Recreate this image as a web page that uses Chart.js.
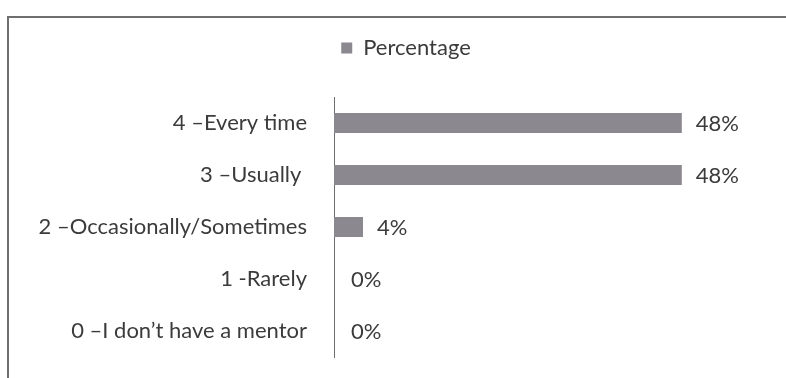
<!DOCTYPE html>
<html>
<head>
<meta charset="utf-8">
<script src="https://cdn.jsdelivr.net/npm/chart.js@4.4.0/dist/chart.umd.min.js"></script>
<style>
  html, body { margin: 0; padding: 0; background: #fff; overflow: hidden; }
  #frame {
    position: absolute; left: 7px; top: 16px; width: 779px; height: 362px;
    box-sizing: border-box; border-left: 2px solid #6f6f6f; border-top: 2px solid #6f6f6f;
  }
  #chart { position: absolute; left: 0; top: 0; }
</style>
</head>
<body>
<div id="frame"></div>
<canvas id="chart" width="786" height="378"></canvas>
<script>
'use strict';

const categories = [
  '4 \u2013Every time',
  '3 \u2013Usually ',
  '2 \u2013Occasionally/Sometimes',
  '1 -Rarely',
  '0 \u2013I don\u2019t have a mentor'
];
const percentages = [48, 48, 4, 0, 0];
const seriesName = 'Percentage';

const textColor = '#3b3b3b';
const barColor = '#8c888f';
const fontFamily = 'Lato, "Open Sans", sans-serif';

// push the plot down below the legend
const legendGap = {
  id: 'legendGap',
  beforeInit(chart) {
    const fit = chart.legend.fit;
    chart.legend.fit = function () {
      fit.bind(chart.legend)();
      this.height += 28;
    };
  }
};

// "48%" style labels at the end of each bar
const valueLabels = {
  id: 'valueLabels',
  afterDatasetsDraw(chart) {
    const { ctx } = chart;
    const meta = chart.getDatasetMeta(0);
    ctx.save();
    ctx.font = `22px ${fontFamily}`;
    ctx.fillStyle = textColor;
    ctx.textAlign = 'left';
    ctx.textBaseline = 'middle';
    meta.data.forEach((bar, i) => {
      const pad = percentages[i] === 0 ? 17 : 14;
      ctx.fillText(percentages[i] + '%', bar.x + pad, bar.y + 1);
    });
    ctx.restore();
  }
};

new Chart(document.getElementById('chart'), {
  type: 'bar',
  data: {
    labels: categories,
    datasets: [{
      label: seriesName,
      data: percentages,
      backgroundColor: barColor,
      borderWidth: 0,
      categoryPercentage: 1,
      barPercentage: 0.385
    }]
  },
  options: {
    indexAxis: 'y',
    responsive: false,
    animation: false,
    devicePixelRatio: 1,
    layout: { padding: { left: 36, right: 10, top: 9, bottom: 21 } },
    plugins: {
      legend: {
        position: 'top',
        labels: {
          boxWidth: 11,
          boxHeight: 11,
          padding: 28,
          color: textColor,
          font: { family: fontFamily, size: 22 }
        }
      },
      tooltip: { enabled: false }
    },
    scales: {
      x: {
        display: false,
        min: 0,
        max: 61
      },
      y: {
        grid: { display: false, drawTicks: false },
        border: { display: true, color: '#6e6e6e', width: 1 },
        ticks: {
          padding: 27,
          color: textColor,
          font: { family: fontFamily, size: 22 }
        },
        afterFit(scale) {
          scale.width = 298;
          scale.paddingTop = 0;
          scale.paddingBottom = 0;
        }
      }
    }
  },
  plugins: [legendGap, valueLabels]
});
</script>
</body>
</html>
